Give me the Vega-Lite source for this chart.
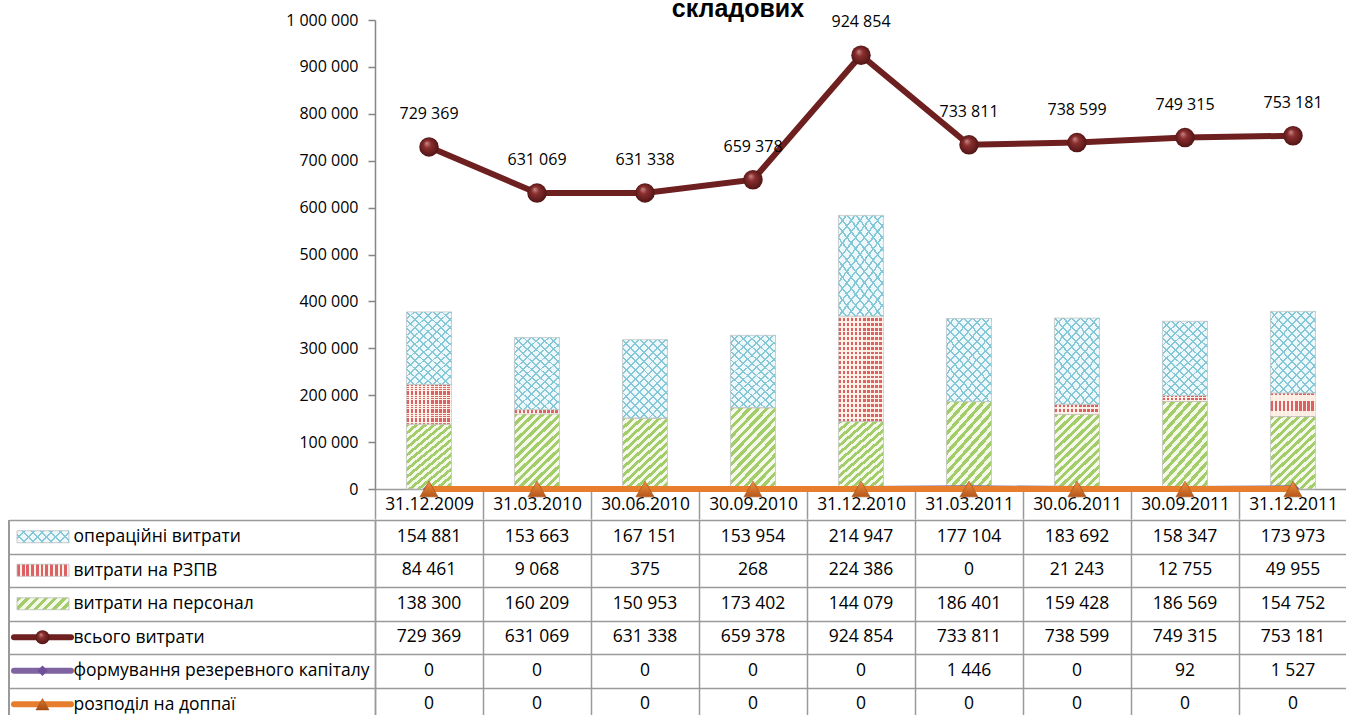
{
  "$schema": "https://vega.github.io/schema/vega-lite/v6.json",
  "padding": {"left": 8, "top": -3, "right": 0, "bottom": 0},
  "spacing": -9,
  "background": "white",
  "title": {"text": "складових", "font": "Liberation Sans", "fontSize": 25, "fontWeight": "bold", "color": "#000000", "anchor": "middle", "dx": 60, "offset": -10},
  "config": {
    "view": {"stroke": null},
    "font": "Open Sans",
    "locale": {"number": {"decimal": ",", "thousands": " ", "grouping": [3], "currency": ["", ""]}}
  },
  "datasets": {
    "d": [
      {"date": "31.12.2009", "series": "операційні витрати", "value": 154881},
      {"date": "31.03.2010", "series": "операційні витрати", "value": 153663},
      {"date": "30.06.2010", "series": "операційні витрати", "value": 167151},
      {"date": "30.09.2010", "series": "операційні витрати", "value": 153954},
      {"date": "31.12.2010", "series": "операційні витрати", "value": 214947},
      {"date": "31.03.2011", "series": "операційні витрати", "value": 177104},
      {"date": "30.06.2011", "series": "операційні витрати", "value": 183692},
      {"date": "30.09.2011", "series": "операційні витрати", "value": 158347},
      {"date": "31.12.2011", "series": "операційні витрати", "value": 173973},
      {"date": "31.12.2009", "series": "витрати на РЗПВ", "value": 84461},
      {"date": "31.03.2010", "series": "витрати на РЗПВ", "value": 9068},
      {"date": "30.06.2010", "series": "витрати на РЗПВ", "value": 375},
      {"date": "30.09.2010", "series": "витрати на РЗПВ", "value": 268},
      {"date": "31.12.2010", "series": "витрати на РЗПВ", "value": 224386},
      {"date": "31.03.2011", "series": "витрати на РЗПВ", "value": 0},
      {"date": "30.06.2011", "series": "витрати на РЗПВ", "value": 21243},
      {"date": "30.09.2011", "series": "витрати на РЗПВ", "value": 12755},
      {"date": "31.12.2011", "series": "витрати на РЗПВ", "value": 49955},
      {"date": "31.12.2009", "series": "витрати на персонал", "value": 138300},
      {"date": "31.03.2010", "series": "витрати на персонал", "value": 160209},
      {"date": "30.06.2010", "series": "витрати на персонал", "value": 150953},
      {"date": "30.09.2010", "series": "витрати на персонал", "value": 173402},
      {"date": "31.12.2010", "series": "витрати на персонал", "value": 144079},
      {"date": "31.03.2011", "series": "витрати на персонал", "value": 186401},
      {"date": "30.06.2011", "series": "витрати на персонал", "value": 159428},
      {"date": "30.09.2011", "series": "витрати на персонал", "value": 186569},
      {"date": "31.12.2011", "series": "витрати на персонал", "value": 154752},
      {"date": "31.12.2009", "series": "всього витрати", "value": 729369},
      {"date": "31.03.2010", "series": "всього витрати", "value": 631069},
      {"date": "30.06.2010", "series": "всього витрати", "value": 631338},
      {"date": "30.09.2010", "series": "всього витрати", "value": 659378},
      {"date": "31.12.2010", "series": "всього витрати", "value": 924854},
      {"date": "31.03.2011", "series": "всього витрати", "value": 733811},
      {"date": "30.06.2011", "series": "всього витрати", "value": 738599},
      {"date": "30.09.2011", "series": "всього витрати", "value": 749315},
      {"date": "31.12.2011", "series": "всього витрати", "value": 753181},
      {"date": "31.12.2009", "series": "формування резеревного капіталу", "value": 0},
      {"date": "31.03.2010", "series": "формування резеревного капіталу", "value": 0},
      {"date": "30.06.2010", "series": "формування резеревного капіталу", "value": 0},
      {"date": "30.09.2010", "series": "формування резеревного капіталу", "value": 0},
      {"date": "31.12.2010", "series": "формування резеревного капіталу", "value": 0},
      {"date": "31.03.2011", "series": "формування резеревного капіталу", "value": 1446},
      {"date": "30.06.2011", "series": "формування резеревного капіталу", "value": 0},
      {"date": "30.09.2011", "series": "формування резеревного капіталу", "value": 92},
      {"date": "31.12.2011", "series": "формування резеревного капіталу", "value": 1527},
      {"date": "31.12.2009", "series": "розподіл на доппаї", "value": 0},
      {"date": "31.03.2010", "series": "розподіл на доппаї", "value": 0},
      {"date": "30.06.2010", "series": "розподіл на доппаї", "value": 0},
      {"date": "30.09.2010", "series": "розподіл на доппаї", "value": 0},
      {"date": "31.12.2010", "series": "розподіл на доппаї", "value": 0},
      {"date": "31.03.2011", "series": "розподіл на доппаї", "value": 0},
      {"date": "30.06.2011", "series": "розподіл на доппаї", "value": 0},
      {"date": "30.09.2011", "series": "розподіл на доппаї", "value": 0},
      {"date": "31.12.2011", "series": "розподіл на доппаї", "value": 0}
    ]
  },
  "vconcat": [
    {
      "width": 972,
      "height": 469,
      "data": {"name": "d"},
      "encoding": {
        "x": {
          "field": "date", "type": "nominal",
          "sort": ["31.12.2009", "31.03.2010", "30.06.2010", "30.09.2010", "31.12.2010", "31.03.2011", "30.06.2011", "30.09.2011", "31.12.2011"],
          "scale": {"paddingInner": 0, "paddingOuter": 0},
          "axis": {"title": null, "orient": "bottom", "domain": true, "domainColor": "#9a9a9a", "domainWidth": 1.5, "ticks": true, "tickBand": "extent", "tickSize": 30, "tickColor": "#9a9a9a", "tickWidth": 1.5, "labelAngle": 0, "labelOverlap": false, "labelBaseline": "middle", "labelPadding": -15, "labelFont": "Open Sans", "labelFontSize": 17.4, "labelColor": "#000000", "grid": false}
        }
      },
      "layer": [
        {
          "transform": [
            {"filter": {"field": "series", "oneOf": ["операційні витрати", "витрати на РЗПВ", "витрати на персонал"]}},
            {"filter": "datum.value > 0"},
            {"calculate": "indexof(['витрати на персонал','витрати на РЗПВ','операційні витрати'], datum.series)", "as": "k"},
            {"stack": "value", "groupby": ["date"], "sort": [{"field": "k", "order": "ascending"}], "as": ["v0", "v1"]}
          ],
          "encoding": {
            "y": {
              "field": "v0", "type": "quantitative",
              "scale": {"domain": [0, 1000000], "nice": false},
              "axis": {"title": null, "values": [0, 100000, 200000, 300000, 400000, 500000, 600000, 700000, 800000, 900000, 1000000], "format": ",d", "domainColor": "#868686", "domainWidth": 1.5, "tickColor": "#868686", "tickSize": 7, "tickWidth": 1.5, "grid": false, "labelFont": "Open Sans", "labelFontSize": 16, "labelColor": "#000000", "labelPadding": 10}
            },
            "y2": {"field": "v1"}
          },
          "layer": [
            {
              "transform": [{"filter": "datum.series === 'витрати на персонал'"}],
              "mark": {"type": "bar", "width": {"band": 0.417}, "stroke": "#c4c4c4", "strokeWidth": 0.8,
                "fill": {"gradient": "linear", "x1": 0, "y1": 0, "x2": 0.683, "y2": 1.183, "stops": [
                  {"offset": 0, "color": "#a3cd6a"}, {"offset": 0.0357, "color": "#a3cd6a"}, {"offset": 0.0357, "color": "#f4f9ea"}, {"offset": 0.0714, "color": "#f4f9ea"},
                  {"offset": 0.0714, "color": "#a3cd6a"}, {"offset": 0.1071, "color": "#a3cd6a"}, {"offset": 0.1071, "color": "#f4f9ea"}, {"offset": 0.1429, "color": "#f4f9ea"},
                  {"offset": 0.1429, "color": "#a3cd6a"}, {"offset": 0.1786, "color": "#a3cd6a"}, {"offset": 0.1786, "color": "#f4f9ea"}, {"offset": 0.2143, "color": "#f4f9ea"},
                  {"offset": 0.2143, "color": "#a3cd6a"}, {"offset": 0.25, "color": "#a3cd6a"}, {"offset": 0.25, "color": "#f4f9ea"}, {"offset": 0.2857, "color": "#f4f9ea"},
                  {"offset": 0.2857, "color": "#a3cd6a"}, {"offset": 0.3214, "color": "#a3cd6a"}, {"offset": 0.3214, "color": "#f4f9ea"}, {"offset": 0.3571, "color": "#f4f9ea"},
                  {"offset": 0.3571, "color": "#a3cd6a"}, {"offset": 0.3929, "color": "#a3cd6a"}, {"offset": 0.3929, "color": "#f4f9ea"}, {"offset": 0.4286, "color": "#f4f9ea"},
                  {"offset": 0.4286, "color": "#a3cd6a"}, {"offset": 0.4643, "color": "#a3cd6a"}, {"offset": 0.4643, "color": "#f4f9ea"}, {"offset": 0.5, "color": "#f4f9ea"},
                  {"offset": 0.5, "color": "#a3cd6a"}, {"offset": 0.5357, "color": "#a3cd6a"}, {"offset": 0.5357, "color": "#f4f9ea"}, {"offset": 0.5714, "color": "#f4f9ea"},
                  {"offset": 0.5714, "color": "#a3cd6a"}, {"offset": 0.6071, "color": "#a3cd6a"}, {"offset": 0.6071, "color": "#f4f9ea"}, {"offset": 0.6429, "color": "#f4f9ea"},
                  {"offset": 0.6429, "color": "#a3cd6a"}, {"offset": 0.6786, "color": "#a3cd6a"}, {"offset": 0.6786, "color": "#f4f9ea"}, {"offset": 0.7143, "color": "#f4f9ea"},
                  {"offset": 0.7143, "color": "#a3cd6a"}, {"offset": 0.75, "color": "#a3cd6a"}, {"offset": 0.75, "color": "#f4f9ea"}, {"offset": 0.7857, "color": "#f4f9ea"},
                  {"offset": 0.7857, "color": "#a3cd6a"}, {"offset": 0.8214, "color": "#a3cd6a"}, {"offset": 0.8214, "color": "#f4f9ea"}, {"offset": 0.8571, "color": "#f4f9ea"},
                  {"offset": 0.8571, "color": "#a3cd6a"}, {"offset": 0.8929, "color": "#a3cd6a"}, {"offset": 0.8929, "color": "#f4f9ea"}, {"offset": 0.9286, "color": "#f4f9ea"},
                  {"offset": 0.9286, "color": "#a3cd6a"}, {"offset": 0.9643, "color": "#a3cd6a"}, {"offset": 0.9643, "color": "#f4f9ea"}, {"offset": 1, "color": "#f4f9ea"}
                ]}
              }
            },
            {
              "transform": [{"filter": "datum.series === 'витрати на РЗПВ'"}],
              "mark": {"type": "bar", "width": {"band": 0.417}, "stroke": "#c4c4c4", "strokeWidth": 0.8,
                "fill": {"gradient": "linear", "x1": 0, "y1": 0, "x2": 1, "y2": 0, "stops": [
                  {"offset": 0, "color": "#dc6064"}, {"offset": 0.0545, "color": "#dc6064"}, {"offset": 0.0545, "color": "#fdf3e8"}, {"offset": 0.0909, "color": "#fdf3e8"},
                  {"offset": 0.0909, "color": "#dc6064"}, {"offset": 0.1455, "color": "#dc6064"}, {"offset": 0.1455, "color": "#fdf3e8"}, {"offset": 0.1818, "color": "#fdf3e8"},
                  {"offset": 0.1818, "color": "#dc6064"}, {"offset": 0.2364, "color": "#dc6064"}, {"offset": 0.2364, "color": "#fdf3e8"}, {"offset": 0.2727, "color": "#fdf3e8"},
                  {"offset": 0.2727, "color": "#dc6064"}, {"offset": 0.3273, "color": "#dc6064"}, {"offset": 0.3273, "color": "#fdf3e8"}, {"offset": 0.3636, "color": "#fdf3e8"},
                  {"offset": 0.3636, "color": "#dc6064"}, {"offset": 0.4182, "color": "#dc6064"}, {"offset": 0.4182, "color": "#fdf3e8"}, {"offset": 0.4545, "color": "#fdf3e8"},
                  {"offset": 0.4545, "color": "#dc6064"}, {"offset": 0.5091, "color": "#dc6064"}, {"offset": 0.5091, "color": "#fdf3e8"}, {"offset": 0.5455, "color": "#fdf3e8"},
                  {"offset": 0.5455, "color": "#dc6064"}, {"offset": 0.6, "color": "#dc6064"}, {"offset": 0.6, "color": "#fdf3e8"}, {"offset": 0.6364, "color": "#fdf3e8"},
                  {"offset": 0.6364, "color": "#dc6064"}, {"offset": 0.6909, "color": "#dc6064"}, {"offset": 0.6909, "color": "#fdf3e8"}, {"offset": 0.7273, "color": "#fdf3e8"},
                  {"offset": 0.7273, "color": "#dc6064"}, {"offset": 0.7818, "color": "#dc6064"}, {"offset": 0.7818, "color": "#fdf3e8"}, {"offset": 0.8182, "color": "#fdf3e8"},
                  {"offset": 0.8182, "color": "#dc6064"}, {"offset": 0.8727, "color": "#dc6064"}, {"offset": 0.8727, "color": "#fdf3e8"}, {"offset": 0.9091, "color": "#fdf3e8"},
                  {"offset": 0.9091, "color": "#dc6064"}, {"offset": 0.9636, "color": "#dc6064"}, {"offset": 0.9636, "color": "#fdf3e8"}, {"offset": 1, "color": "#fdf3e8"}
                ]}
              }
            },
            {
              "transform": [{"filter": "datum.series === 'витрати на РЗПВ'"}],
              "mark": {"type": "bar", "width": {"band": 0.417}, "strokeWidth": 0,
                "fill": {"gradient": "linear", "x1": 0, "y1": 0, "x2": 0, "y2": 1, "stops": [
                  {"offset": 0, "color": "rgba(253,243,232,0.95)"}, {"offset": 0.0182, "color": "rgba(253,243,232,0.95)"}, {"offset": 0.0182, "color": "rgba(253,243,232,0)"}, {"offset": 0.0455, "color": "rgba(253,243,232,0)"},
                  {"offset": 0.0455, "color": "rgba(253,243,232,0.95)"}, {"offset": 0.0636, "color": "rgba(253,243,232,0.95)"}, {"offset": 0.0636, "color": "rgba(253,243,232,0)"}, {"offset": 0.0909, "color": "rgba(253,243,232,0)"},
                  {"offset": 0.0909, "color": "rgba(253,243,232,0.95)"}, {"offset": 0.1091, "color": "rgba(253,243,232,0.95)"}, {"offset": 0.1091, "color": "rgba(253,243,232,0)"}, {"offset": 0.1364, "color": "rgba(253,243,232,0)"},
                  {"offset": 0.1364, "color": "rgba(253,243,232,0.95)"}, {"offset": 0.1545, "color": "rgba(253,243,232,0.95)"}, {"offset": 0.1545, "color": "rgba(253,243,232,0)"}, {"offset": 0.1818, "color": "rgba(253,243,232,0)"},
                  {"offset": 0.1818, "color": "rgba(253,243,232,0.95)"}, {"offset": 0.2, "color": "rgba(253,243,232,0.95)"}, {"offset": 0.2, "color": "rgba(253,243,232,0)"}, {"offset": 0.2273, "color": "rgba(253,243,232,0)"},
                  {"offset": 0.2273, "color": "rgba(253,243,232,0.95)"}, {"offset": 0.2455, "color": "rgba(253,243,232,0.95)"}, {"offset": 0.2455, "color": "rgba(253,243,232,0)"}, {"offset": 0.2727, "color": "rgba(253,243,232,0)"},
                  {"offset": 0.2727, "color": "rgba(253,243,232,0.95)"}, {"offset": 0.2909, "color": "rgba(253,243,232,0.95)"}, {"offset": 0.2909, "color": "rgba(253,243,232,0)"}, {"offset": 0.3182, "color": "rgba(253,243,232,0)"},
                  {"offset": 0.3182, "color": "rgba(253,243,232,0.95)"}, {"offset": 0.3364, "color": "rgba(253,243,232,0.95)"}, {"offset": 0.3364, "color": "rgba(253,243,232,0)"}, {"offset": 0.3636, "color": "rgba(253,243,232,0)"},
                  {"offset": 0.3636, "color": "rgba(253,243,232,0.95)"}, {"offset": 0.3818, "color": "rgba(253,243,232,0.95)"}, {"offset": 0.3818, "color": "rgba(253,243,232,0)"}, {"offset": 0.4091, "color": "rgba(253,243,232,0)"},
                  {"offset": 0.4091, "color": "rgba(253,243,232,0.95)"}, {"offset": 0.4273, "color": "rgba(253,243,232,0.95)"}, {"offset": 0.4273, "color": "rgba(253,243,232,0)"}, {"offset": 0.4545, "color": "rgba(253,243,232,0)"},
                  {"offset": 0.4545, "color": "rgba(253,243,232,0.95)"}, {"offset": 0.4727, "color": "rgba(253,243,232,0.95)"}, {"offset": 0.4727, "color": "rgba(253,243,232,0)"}, {"offset": 0.5, "color": "rgba(253,243,232,0)"},
                  {"offset": 0.5, "color": "rgba(253,243,232,0.95)"}, {"offset": 0.5182, "color": "rgba(253,243,232,0.95)"}, {"offset": 0.5182, "color": "rgba(253,243,232,0)"}, {"offset": 0.5455, "color": "rgba(253,243,232,0)"},
                  {"offset": 0.5455, "color": "rgba(253,243,232,0.95)"}, {"offset": 0.5636, "color": "rgba(253,243,232,0.95)"}, {"offset": 0.5636, "color": "rgba(253,243,232,0)"}, {"offset": 0.5909, "color": "rgba(253,243,232,0)"},
                  {"offset": 0.5909, "color": "rgba(253,243,232,0.95)"}, {"offset": 0.6091, "color": "rgba(253,243,232,0.95)"}, {"offset": 0.6091, "color": "rgba(253,243,232,0)"}, {"offset": 0.6364, "color": "rgba(253,243,232,0)"},
                  {"offset": 0.6364, "color": "rgba(253,243,232,0.95)"}, {"offset": 0.6545, "color": "rgba(253,243,232,0.95)"}, {"offset": 0.6545, "color": "rgba(253,243,232,0)"}, {"offset": 0.6818, "color": "rgba(253,243,232,0)"},
                  {"offset": 0.6818, "color": "rgba(253,243,232,0.95)"}, {"offset": 0.7, "color": "rgba(253,243,232,0.95)"}, {"offset": 0.7, "color": "rgba(253,243,232,0)"}, {"offset": 0.7273, "color": "rgba(253,243,232,0)"},
                  {"offset": 0.7273, "color": "rgba(253,243,232,0.95)"}, {"offset": 0.7455, "color": "rgba(253,243,232,0.95)"}, {"offset": 0.7455, "color": "rgba(253,243,232,0)"}, {"offset": 0.7727, "color": "rgba(253,243,232,0)"},
                  {"offset": 0.7727, "color": "rgba(253,243,232,0.95)"}, {"offset": 0.7909, "color": "rgba(253,243,232,0.95)"}, {"offset": 0.7909, "color": "rgba(253,243,232,0)"}, {"offset": 0.8182, "color": "rgba(253,243,232,0)"},
                  {"offset": 0.8182, "color": "rgba(253,243,232,0.95)"}, {"offset": 0.8364, "color": "rgba(253,243,232,0.95)"}, {"offset": 0.8364, "color": "rgba(253,243,232,0)"}, {"offset": 0.8636, "color": "rgba(253,243,232,0)"},
                  {"offset": 0.8636, "color": "rgba(253,243,232,0.95)"}, {"offset": 0.8818, "color": "rgba(253,243,232,0.95)"}, {"offset": 0.8818, "color": "rgba(253,243,232,0)"}, {"offset": 0.9091, "color": "rgba(253,243,232,0)"},
                  {"offset": 0.9091, "color": "rgba(253,243,232,0.95)"}, {"offset": 0.9273, "color": "rgba(253,243,232,0.95)"}, {"offset": 0.9273, "color": "rgba(253,243,232,0)"}, {"offset": 0.9545, "color": "rgba(253,243,232,0)"},
                  {"offset": 0.9545, "color": "rgba(253,243,232,0.95)"}, {"offset": 0.9727, "color": "rgba(253,243,232,0.95)"}, {"offset": 0.9727, "color": "rgba(253,243,232,0)"}, {"offset": 1, "color": "rgba(253,243,232,0)"}
                ]}
              }
            },
            {
              "transform": [{"filter": "datum.series === 'операційні витрати'"}],
              "mark": {"type": "bar", "width": {"band": 0.417}, "stroke": "#c4c4c4", "strokeWidth": 0.8,
                "fill": {"gradient": "linear", "x1": 0, "y1": 0, "x2": 0.683, "y2": 1.183, "stops": [
                  {"offset": 0, "color": "#eef8fa"}, {"offset": 0.0557, "color": "#eef8fa"}, {"offset": 0.0557, "color": "#84c7d6"}, {"offset": 0.0714, "color": "#84c7d6"},
                  {"offset": 0.0714, "color": "#eef8fa"}, {"offset": 0.1271, "color": "#eef8fa"}, {"offset": 0.1271, "color": "#84c7d6"}, {"offset": 0.1429, "color": "#84c7d6"},
                  {"offset": 0.1429, "color": "#eef8fa"}, {"offset": 0.1986, "color": "#eef8fa"}, {"offset": 0.1986, "color": "#84c7d6"}, {"offset": 0.2143, "color": "#84c7d6"},
                  {"offset": 0.2143, "color": "#eef8fa"}, {"offset": 0.27, "color": "#eef8fa"}, {"offset": 0.27, "color": "#84c7d6"}, {"offset": 0.2857, "color": "#84c7d6"},
                  {"offset": 0.2857, "color": "#eef8fa"}, {"offset": 0.3414, "color": "#eef8fa"}, {"offset": 0.3414, "color": "#84c7d6"}, {"offset": 0.3571, "color": "#84c7d6"},
                  {"offset": 0.3571, "color": "#eef8fa"}, {"offset": 0.4128, "color": "#eef8fa"}, {"offset": 0.4128, "color": "#84c7d6"}, {"offset": 0.4286, "color": "#84c7d6"},
                  {"offset": 0.4286, "color": "#eef8fa"}, {"offset": 0.4843, "color": "#eef8fa"}, {"offset": 0.4843, "color": "#84c7d6"}, {"offset": 0.5, "color": "#84c7d6"},
                  {"offset": 0.5, "color": "#eef8fa"}, {"offset": 0.5557, "color": "#eef8fa"}, {"offset": 0.5557, "color": "#84c7d6"}, {"offset": 0.5714, "color": "#84c7d6"},
                  {"offset": 0.5714, "color": "#eef8fa"}, {"offset": 0.6271, "color": "#eef8fa"}, {"offset": 0.6271, "color": "#84c7d6"}, {"offset": 0.6429, "color": "#84c7d6"},
                  {"offset": 0.6429, "color": "#eef8fa"}, {"offset": 0.6986, "color": "#eef8fa"}, {"offset": 0.6986, "color": "#84c7d6"}, {"offset": 0.7143, "color": "#84c7d6"},
                  {"offset": 0.7143, "color": "#eef8fa"}, {"offset": 0.77, "color": "#eef8fa"}, {"offset": 0.77, "color": "#84c7d6"}, {"offset": 0.7857, "color": "#84c7d6"},
                  {"offset": 0.7857, "color": "#eef8fa"}, {"offset": 0.8414, "color": "#eef8fa"}, {"offset": 0.8414, "color": "#84c7d6"}, {"offset": 0.8571, "color": "#84c7d6"},
                  {"offset": 0.8571, "color": "#eef8fa"}, {"offset": 0.9128, "color": "#eef8fa"}, {"offset": 0.9128, "color": "#84c7d6"}, {"offset": 0.9286, "color": "#84c7d6"},
                  {"offset": 0.9286, "color": "#eef8fa"}, {"offset": 0.9843, "color": "#eef8fa"}, {"offset": 0.9843, "color": "#84c7d6"}, {"offset": 1, "color": "#84c7d6"}
                ]}
              }
            },
            {
              "transform": [{"filter": "datum.series === 'операційні витрати'"}],
              "mark": {"type": "bar", "width": {"band": 0.417}, "strokeWidth": 0,
                "fill": {"gradient": "linear", "x1": 0, "y1": 1, "x2": 0.683, "y2": -0.183, "stops": [
                  {"offset": 0, "color": "rgba(255,255,255,0)"}, {"offset": 0.0557, "color": "rgba(255,255,255,0)"}, {"offset": 0.0557, "color": "#84c7d6"}, {"offset": 0.0714, "color": "#84c7d6"},
                  {"offset": 0.0714, "color": "rgba(255,255,255,0)"}, {"offset": 0.1271, "color": "rgba(255,255,255,0)"}, {"offset": 0.1271, "color": "#84c7d6"}, {"offset": 0.1429, "color": "#84c7d6"},
                  {"offset": 0.1429, "color": "rgba(255,255,255,0)"}, {"offset": 0.1986, "color": "rgba(255,255,255,0)"}, {"offset": 0.1986, "color": "#84c7d6"}, {"offset": 0.2143, "color": "#84c7d6"},
                  {"offset": 0.2143, "color": "rgba(255,255,255,0)"}, {"offset": 0.27, "color": "rgba(255,255,255,0)"}, {"offset": 0.27, "color": "#84c7d6"}, {"offset": 0.2857, "color": "#84c7d6"},
                  {"offset": 0.2857, "color": "rgba(255,255,255,0)"}, {"offset": 0.3414, "color": "rgba(255,255,255,0)"}, {"offset": 0.3414, "color": "#84c7d6"}, {"offset": 0.3571, "color": "#84c7d6"},
                  {"offset": 0.3571, "color": "rgba(255,255,255,0)"}, {"offset": 0.4128, "color": "rgba(255,255,255,0)"}, {"offset": 0.4128, "color": "#84c7d6"}, {"offset": 0.4286, "color": "#84c7d6"},
                  {"offset": 0.4286, "color": "rgba(255,255,255,0)"}, {"offset": 0.4843, "color": "rgba(255,255,255,0)"}, {"offset": 0.4843, "color": "#84c7d6"}, {"offset": 0.5, "color": "#84c7d6"},
                  {"offset": 0.5, "color": "rgba(255,255,255,0)"}, {"offset": 0.5557, "color": "rgba(255,255,255,0)"}, {"offset": 0.5557, "color": "#84c7d6"}, {"offset": 0.5714, "color": "#84c7d6"},
                  {"offset": 0.5714, "color": "rgba(255,255,255,0)"}, {"offset": 0.6271, "color": "rgba(255,255,255,0)"}, {"offset": 0.6271, "color": "#84c7d6"}, {"offset": 0.6429, "color": "#84c7d6"},
                  {"offset": 0.6429, "color": "rgba(255,255,255,0)"}, {"offset": 0.6986, "color": "rgba(255,255,255,0)"}, {"offset": 0.6986, "color": "#84c7d6"}, {"offset": 0.7143, "color": "#84c7d6"},
                  {"offset": 0.7143, "color": "rgba(255,255,255,0)"}, {"offset": 0.77, "color": "rgba(255,255,255,0)"}, {"offset": 0.77, "color": "#84c7d6"}, {"offset": 0.7857, "color": "#84c7d6"},
                  {"offset": 0.7857, "color": "rgba(255,255,255,0)"}, {"offset": 0.8414, "color": "rgba(255,255,255,0)"}, {"offset": 0.8414, "color": "#84c7d6"}, {"offset": 0.8571, "color": "#84c7d6"},
                  {"offset": 0.8571, "color": "rgba(255,255,255,0)"}, {"offset": 0.9128, "color": "rgba(255,255,255,0)"}, {"offset": 0.9128, "color": "#84c7d6"}, {"offset": 0.9286, "color": "#84c7d6"},
                  {"offset": 0.9286, "color": "rgba(255,255,255,0)"}, {"offset": 0.9843, "color": "rgba(255,255,255,0)"}, {"offset": 0.9843, "color": "#84c7d6"}, {"offset": 1, "color": "#84c7d6"}
                ]}
              }
            }
          ]
        },
        {
          "transform": [{"filter": "datum.series === 'формування резеревного капіталу'"}],
          "mark": {"type": "line", "stroke": "#8064a2", "strokeWidth": 6},
          "encoding": {"y": {"field": "value", "type": "quantitative", "scale": {"domain": [0, 1000000], "nice": false}, "axis": {"title": null, "values": [0, 100000, 200000, 300000, 400000, 500000, 600000, 700000, 800000, 900000, 1000000], "format": ",d", "domainColor": "#868686", "domainWidth": 1.5, "tickColor": "#868686", "tickSize": 7, "tickWidth": 1.5, "grid": false, "labelFont": "Open Sans", "labelFontSize": 16, "labelColor": "#000000", "labelPadding": 10}}}
        },
        {
          "transform": [{"filter": "datum.series === 'формування резеревного капіталу'"}],
          "mark": {"type": "point", "shape": "diamond", "size": 150, "filled": true, "fill": "#7b5ca3", "opacity": 1, "strokeWidth": 0},
          "encoding": {"y": {"field": "value", "type": "quantitative", "scale": {"domain": [0, 1000000], "nice": false}, "axis": {"title": null, "values": [0, 100000, 200000, 300000, 400000, 500000, 600000, 700000, 800000, 900000, 1000000], "format": ",d", "domainColor": "#868686", "domainWidth": 1.5, "tickColor": "#868686", "tickSize": 7, "tickWidth": 1.5, "grid": false, "labelFont": "Open Sans", "labelFontSize": 16, "labelColor": "#000000", "labelPadding": 10}}}
        },
        {
          "transform": [{"filter": "datum.series === 'розподіл на доппаї'"}],
          "mark": {"type": "line", "stroke": "#e67e2e", "strokeWidth": 6},
          "encoding": {"y": {"field": "value", "type": "quantitative", "scale": {"domain": [0, 1000000], "nice": false}, "axis": {"title": null, "values": [0, 100000, 200000, 300000, 400000, 500000, 600000, 700000, 800000, 900000, 1000000], "format": ",d", "domainColor": "#868686", "domainWidth": 1.5, "tickColor": "#868686", "tickSize": 7, "tickWidth": 1.5, "grid": false, "labelFont": "Open Sans", "labelFontSize": 16, "labelColor": "#000000", "labelPadding": 10}}}
        },
        {
          "transform": [{"filter": "datum.series === 'розподіл на доппаї'"}],
          "mark": {"type": "point", "shape": "triangle-up", "size": 330, "filled": true, "opacity": 1, "stroke": "#a54d14", "strokeWidth": 0.6,
            "fill": {"gradient": "linear", "x1": 0, "y1": 0, "x2": 0, "y2": 1, "stops": [{"offset": 0, "color": "#f0923f"}, {"offset": 1, "color": "#b6561b"}]}},
          "encoding": {"y": {"field": "value", "type": "quantitative", "scale": {"domain": [0, 1000000], "nice": false}, "axis": {"title": null, "values": [0, 100000, 200000, 300000, 400000, 500000, 600000, 700000, 800000, 900000, 1000000], "format": ",d", "domainColor": "#868686", "domainWidth": 1.5, "tickColor": "#868686", "tickSize": 7, "tickWidth": 1.5, "grid": false, "labelFont": "Open Sans", "labelFontSize": 16, "labelColor": "#000000", "labelPadding": 10}}}
        },
        {
          "transform": [{"filter": "datum.series === 'всього витрати'"}],
          "mark": {"type": "line", "stroke": "#6e2020", "strokeWidth": 6},
          "encoding": {"y": {"field": "value", "type": "quantitative", "scale": {"domain": [0, 1000000], "nice": false}, "axis": {"title": null, "values": [0, 100000, 200000, 300000, 400000, 500000, 600000, 700000, 800000, 900000, 1000000], "format": ",d", "domainColor": "#868686", "domainWidth": 1.5, "tickColor": "#868686", "tickSize": 7, "tickWidth": 1.5, "grid": false, "labelFont": "Open Sans", "labelFontSize": 16, "labelColor": "#000000", "labelPadding": 10}}}
        },
        {
          "transform": [{"filter": "datum.series === 'всього витрати'"}],
          "mark": {"type": "point", "shape": "circle", "size": 380, "filled": true, "opacity": 1, "strokeWidth": 0,
            "fill": {"gradient": "radial", "x1": 0.38, "y1": 0.3, "r1": 0, "x2": 0.5, "y2": 0.5, "r2": 0.55, "stops": [{"offset": 0, "color": "#c98a8a"}, {"offset": 0.35, "color": "#8a2e2e"}, {"offset": 1, "color": "#4a1212"}]}},
          "encoding": {"y": {"field": "value", "type": "quantitative", "scale": {"domain": [0, 1000000], "nice": false}, "axis": {"title": null, "values": [0, 100000, 200000, 300000, 400000, 500000, 600000, 700000, 800000, 900000, 1000000], "format": ",d", "domainColor": "#868686", "domainWidth": 1.5, "tickColor": "#868686", "tickSize": 7, "tickWidth": 1.5, "grid": false, "labelFont": "Open Sans", "labelFontSize": 16, "labelColor": "#000000", "labelPadding": 10}}}
        },
        {
          "transform": [{"filter": "datum.series === 'всього витрати'"}],
          "mark": {"type": "text", "dy": -33, "font": "Open Sans", "fontSize": 16, "color": "#000000"},
          "encoding": {
            "y": {"field": "value", "type": "quantitative", "scale": {"domain": [0, 1000000], "nice": false}, "axis": {"title": null, "values": [0, 100000, 200000, 300000, 400000, 500000, 600000, 700000, 800000, 900000, 1000000], "format": ",d", "domainColor": "#868686", "domainWidth": 1.5, "tickColor": "#868686", "tickSize": 7, "tickWidth": 1.5, "grid": false, "labelFont": "Open Sans", "labelFontSize": 16, "labelColor": "#000000", "labelPadding": 10}},
            "text": {"field": "value", "type": "quantitative", "format": ","}
          }
        }
      ]
    },
    {
      "width": 972,
      "height": 201,
      "data": {"name": "d"},
      "layer": [
        {
          "mark": {"type": "text", "font": "Open Sans", "fontSize": 17.5, "color": "#000000"},
          "encoding": {
            "x": {
              "field": "date", "type": "nominal",
              "sort": ["31.12.2009", "31.03.2010", "30.06.2010", "30.09.2010", "31.12.2010", "31.03.2011", "30.06.2011", "30.09.2011", "31.12.2011"],
              "scale": {"paddingInner": 0, "paddingOuter": 0},
              "axis": {"title": null, "orient": "bottom", "labels": false, "ticks": false, "domain": false, "grid": true, "tickBand": "extent", "gridColor": "#9a9a9a", "gridWidth": 1.5}
            },
            "y": {
              "field": "series", "type": "nominal",
              "sort": ["операційні витрати", "витрати на РЗПВ", "витрати на персонал", "всього витрати", "формування резеревного капіталу", "розподіл на доппаї"],
              "scale": {"paddingInner": 0, "paddingOuter": 0},
              "axis": {"title": null, "domain": true, "domainColor": "#9a9a9a", "domainWidth": 1.5, "ticks": true, "tickSize": 366, "tickColor": "#9a9a9a", "tickWidth": 1.5, "tickBand": "extent", "grid": true, "gridColor": "#9a9a9a", "gridWidth": 1.5, "labelAlign": "left", "labelPadding": -64, "labelFont": "Open Sans", "labelFontSize": 17.5, "labelColor": "#000000", "labelLimit": 400}
            },
            "text": {"field": "value", "type": "quantitative", "format": ","}
          }
        },
        {
          "transform": [{"filter": "datum.date === '31.12.2009'"}],
          "encoding": {
            "y": {
              "field": "series", "type": "nominal",
              "sort": ["операційні витрати", "витрати на РЗПВ", "витрати на персонал", "всього витрати", "формування резеревного капіталу", "розподіл на доппаї"]
            }
          },
          "layer": [
            {
              "mark": {"type": "rule", "stroke": "#9a9a9a", "strokeWidth": 1.5},
              "encoding": {"x": {"datum": 0, "type": "quantitative", "scale": {"domain": [0, 1], "range": [-366, 0]}, "axis": null}, "y": null}
            },
            {
              "transform": [{"filter": "datum.series === 'витрати на персонал'"}],
              "mark": {"type": "bar", "size": 12, "stroke": "#bdbdbd", "strokeWidth": 0.8,
                "fill": {"gradient": "linear", "x1": 0, "y1": 0, "x2": 1.169, "y2": 0.27, "stops": [
                  {"offset": 0, "color": "#a3cd6a"}, {"offset": 0.0714, "color": "#a3cd6a"}, {"offset": 0.0714, "color": "#f4f9ea"}, {"offset": 0.1429, "color": "#f4f9ea"},
                  {"offset": 0.1429, "color": "#a3cd6a"}, {"offset": 0.2143, "color": "#a3cd6a"}, {"offset": 0.2143, "color": "#f4f9ea"}, {"offset": 0.2857, "color": "#f4f9ea"},
                  {"offset": 0.2857, "color": "#a3cd6a"}, {"offset": 0.3571, "color": "#a3cd6a"}, {"offset": 0.3571, "color": "#f4f9ea"}, {"offset": 0.4286, "color": "#f4f9ea"},
                  {"offset": 0.4286, "color": "#a3cd6a"}, {"offset": 0.5, "color": "#a3cd6a"}, {"offset": 0.5, "color": "#f4f9ea"}, {"offset": 0.5714, "color": "#f4f9ea"},
                  {"offset": 0.5714, "color": "#a3cd6a"}, {"offset": 0.6429, "color": "#a3cd6a"}, {"offset": 0.6429, "color": "#f4f9ea"}, {"offset": 0.7143, "color": "#f4f9ea"},
                  {"offset": 0.7143, "color": "#a3cd6a"}, {"offset": 0.7857, "color": "#a3cd6a"}, {"offset": 0.7857, "color": "#f4f9ea"}, {"offset": 0.8571, "color": "#f4f9ea"},
                  {"offset": 0.8571, "color": "#a3cd6a"}, {"offset": 0.9286, "color": "#a3cd6a"}, {"offset": 0.9286, "color": "#f4f9ea"}, {"offset": 1, "color": "#f4f9ea"}
                ]}},
              "encoding": {"x": {"datum": 0.0219, "type": "quantitative", "scale": {"domain": [0, 1], "range": [-366, 0]}, "axis": null}, "x2": {"datum": 0.1639}}
            },
            {
              "transform": [{"filter": "datum.series === 'витрати на РЗПВ'"}],
              "mark": {"type": "bar", "size": 12, "stroke": "#bdbdbd", "strokeWidth": 0.8,
                "fill": {"gradient": "linear", "x1": 0, "y1": 0, "x2": 1, "y2": 0, "stops": [
                  {"offset": 0, "color": "#dc6064"}, {"offset": 0.0545, "color": "#dc6064"}, {"offset": 0.0545, "color": "#fdf3e8"}, {"offset": 0.0909, "color": "#fdf3e8"},
                  {"offset": 0.0909, "color": "#dc6064"}, {"offset": 0.1455, "color": "#dc6064"}, {"offset": 0.1455, "color": "#fdf3e8"}, {"offset": 0.1818, "color": "#fdf3e8"},
                  {"offset": 0.1818, "color": "#dc6064"}, {"offset": 0.2364, "color": "#dc6064"}, {"offset": 0.2364, "color": "#fdf3e8"}, {"offset": 0.2727, "color": "#fdf3e8"},
                  {"offset": 0.2727, "color": "#dc6064"}, {"offset": 0.3273, "color": "#dc6064"}, {"offset": 0.3273, "color": "#fdf3e8"}, {"offset": 0.3636, "color": "#fdf3e8"},
                  {"offset": 0.3636, "color": "#dc6064"}, {"offset": 0.4182, "color": "#dc6064"}, {"offset": 0.4182, "color": "#fdf3e8"}, {"offset": 0.4545, "color": "#fdf3e8"},
                  {"offset": 0.4545, "color": "#dc6064"}, {"offset": 0.5091, "color": "#dc6064"}, {"offset": 0.5091, "color": "#fdf3e8"}, {"offset": 0.5455, "color": "#fdf3e8"},
                  {"offset": 0.5455, "color": "#dc6064"}, {"offset": 0.6, "color": "#dc6064"}, {"offset": 0.6, "color": "#fdf3e8"}, {"offset": 0.6364, "color": "#fdf3e8"},
                  {"offset": 0.6364, "color": "#dc6064"}, {"offset": 0.6909, "color": "#dc6064"}, {"offset": 0.6909, "color": "#fdf3e8"}, {"offset": 0.7273, "color": "#fdf3e8"},
                  {"offset": 0.7273, "color": "#dc6064"}, {"offset": 0.7818, "color": "#dc6064"}, {"offset": 0.7818, "color": "#fdf3e8"}, {"offset": 0.8182, "color": "#fdf3e8"},
                  {"offset": 0.8182, "color": "#dc6064"}, {"offset": 0.8727, "color": "#dc6064"}, {"offset": 0.8727, "color": "#fdf3e8"}, {"offset": 0.9091, "color": "#fdf3e8"},
                  {"offset": 0.9091, "color": "#dc6064"}, {"offset": 0.9636, "color": "#dc6064"}, {"offset": 0.9636, "color": "#fdf3e8"}, {"offset": 1, "color": "#fdf3e8"}
                ]}},
              "encoding": {"x": {"datum": 0.0219, "type": "quantitative", "scale": {"domain": [0, 1], "range": [-366, 0]}, "axis": null}, "x2": {"datum": 0.1639}}
            },
            {
              "transform": [{"filter": "datum.series === 'операційні витрати'"}],
              "mark": {"type": "bar", "size": 12, "stroke": "#bdbdbd", "strokeWidth": 0.8,
                "fill": {"gradient": "linear", "x1": 0, "y1": 0, "x2": 1.169, "y2": 0.27, "stops": [
                  {"offset": 0, "color": "#eef8fa"}, {"offset": 0.1114, "color": "#eef8fa"}, {"offset": 0.1114, "color": "#84c7d6"}, {"offset": 0.1429, "color": "#84c7d6"},
                  {"offset": 0.1429, "color": "#eef8fa"}, {"offset": 0.2543, "color": "#eef8fa"}, {"offset": 0.2543, "color": "#84c7d6"}, {"offset": 0.2857, "color": "#84c7d6"},
                  {"offset": 0.2857, "color": "#eef8fa"}, {"offset": 0.3971, "color": "#eef8fa"}, {"offset": 0.3971, "color": "#84c7d6"}, {"offset": 0.4286, "color": "#84c7d6"},
                  {"offset": 0.4286, "color": "#eef8fa"}, {"offset": 0.54, "color": "#eef8fa"}, {"offset": 0.54, "color": "#84c7d6"}, {"offset": 0.5714, "color": "#84c7d6"},
                  {"offset": 0.5714, "color": "#eef8fa"}, {"offset": 0.6829, "color": "#eef8fa"}, {"offset": 0.6829, "color": "#84c7d6"}, {"offset": 0.7143, "color": "#84c7d6"},
                  {"offset": 0.7143, "color": "#eef8fa"}, {"offset": 0.8257, "color": "#eef8fa"}, {"offset": 0.8257, "color": "#84c7d6"}, {"offset": 0.8571, "color": "#84c7d6"},
                  {"offset": 0.8571, "color": "#eef8fa"}, {"offset": 0.9686, "color": "#eef8fa"}, {"offset": 0.9686, "color": "#84c7d6"}, {"offset": 1, "color": "#84c7d6"}
                ]}},
              "encoding": {"x": {"datum": 0.0219, "type": "quantitative", "scale": {"domain": [0, 1], "range": [-366, 0]}, "axis": null}, "x2": {"datum": 0.1639}}
            },
            {
              "transform": [{"filter": "datum.series === 'операційні витрати'"}],
              "mark": {"type": "bar", "size": 12, "strokeWidth": 0,
                "fill": {"gradient": "linear", "x1": 0, "y1": 1, "x2": 1.169, "y2": 0.73, "stops": [
                  {"offset": 0, "color": "rgba(255,255,255,0)"}, {"offset": 0.1114, "color": "rgba(255,255,255,0)"}, {"offset": 0.1114, "color": "#84c7d6"}, {"offset": 0.1429, "color": "#84c7d6"},
                  {"offset": 0.1429, "color": "rgba(255,255,255,0)"}, {"offset": 0.2543, "color": "rgba(255,255,255,0)"}, {"offset": 0.2543, "color": "#84c7d6"}, {"offset": 0.2857, "color": "#84c7d6"},
                  {"offset": 0.2857, "color": "rgba(255,255,255,0)"}, {"offset": 0.3971, "color": "rgba(255,255,255,0)"}, {"offset": 0.3971, "color": "#84c7d6"}, {"offset": 0.4286, "color": "#84c7d6"},
                  {"offset": 0.4286, "color": "rgba(255,255,255,0)"}, {"offset": 0.54, "color": "rgba(255,255,255,0)"}, {"offset": 0.54, "color": "#84c7d6"}, {"offset": 0.5714, "color": "#84c7d6"},
                  {"offset": 0.5714, "color": "rgba(255,255,255,0)"}, {"offset": 0.6829, "color": "rgba(255,255,255,0)"}, {"offset": 0.6829, "color": "#84c7d6"}, {"offset": 0.7143, "color": "#84c7d6"},
                  {"offset": 0.7143, "color": "rgba(255,255,255,0)"}, {"offset": 0.8257, "color": "rgba(255,255,255,0)"}, {"offset": 0.8257, "color": "#84c7d6"}, {"offset": 0.8571, "color": "#84c7d6"},
                  {"offset": 0.8571, "color": "rgba(255,255,255,0)"}, {"offset": 0.9686, "color": "rgba(255,255,255,0)"}, {"offset": 0.9686, "color": "#84c7d6"}, {"offset": 1, "color": "#84c7d6"}
                ]}},
              "encoding": {"x": {"datum": 0.0219, "type": "quantitative", "scale": {"domain": [0, 1], "range": [-366, 0]}, "axis": null}, "x2": {"datum": 0.1639}}
            },
            {
              "transform": [{"filter": {"field": "series", "oneOf": ["всього витрати", "формування резеревного капіталу", "розподіл на доппаї"]}}],
              "mark": {"type": "rule", "strokeWidth": 6, "strokeCap": "round"},
              "encoding": {
                "x": {"datum": 0.0137, "type": "quantitative", "scale": {"domain": [0, 1], "range": [-366, 0]}, "axis": null},
                "x2": {"datum": 0.1694},
                "stroke": {"field": "series", "type": "nominal", "scale": {"domain": ["всього витрати", "формування резеревного капіталу", "розподіл на доппаї"], "range": ["#6e2020", "#8064a2", "#e67e2e"]}, "legend": null}
              }
            },
            {
              "transform": [{"filter": "datum.series === 'всього витрати'"}],
              "mark": {"type": "point", "shape": "circle", "size": 200, "filled": true, "opacity": 1, "strokeWidth": 0,
                "fill": {"gradient": "radial", "x1": 0.38, "y1": 0.3, "r1": 0, "x2": 0.5, "y2": 0.5, "r2": 0.55, "stops": [{"offset": 0, "color": "#c98a8a"}, {"offset": 0.35, "color": "#8a2e2e"}, {"offset": 1, "color": "#4a1212"}]}},
              "encoding": {"x": {"datum": 0.0915, "type": "quantitative", "scale": {"domain": [0, 1], "range": [-366, 0]}, "axis": null}}
            },
            {
              "transform": [{"filter": "datum.series === 'формування резеревного капіталу'"}],
              "mark": {"type": "point", "shape": "diamond", "size": 110, "filled": true, "opacity": 1, "strokeWidth": 0, "fill": "#6f4f98"},
              "encoding": {"x": {"datum": 0.0915, "type": "quantitative", "scale": {"domain": [0, 1], "range": [-366, 0]}, "axis": null}}
            },
            {
              "transform": [{"filter": "datum.series === 'розподіл на доппаї'"}],
              "mark": {"type": "point", "shape": "triangle-up", "size": 170, "filled": true, "opacity": 1, "stroke": "#a54d14", "strokeWidth": 0.6,
                "fill": {"gradient": "linear", "x1": 0, "y1": 0, "x2": 0, "y2": 1, "stops": [{"offset": 0, "color": "#d7772f"}, {"offset": 1, "color": "#a54d14"}]}},
              "encoding": {"x": {"datum": 0.0915, "type": "quantitative", "scale": {"domain": [0, 1], "range": [-366, 0]}, "axis": null}}
            }
          ]
        }
      ],
      "resolve": {"scale": {"x": "independent"}, "axis": {"x": "independent"}}
    }
  ]
}
